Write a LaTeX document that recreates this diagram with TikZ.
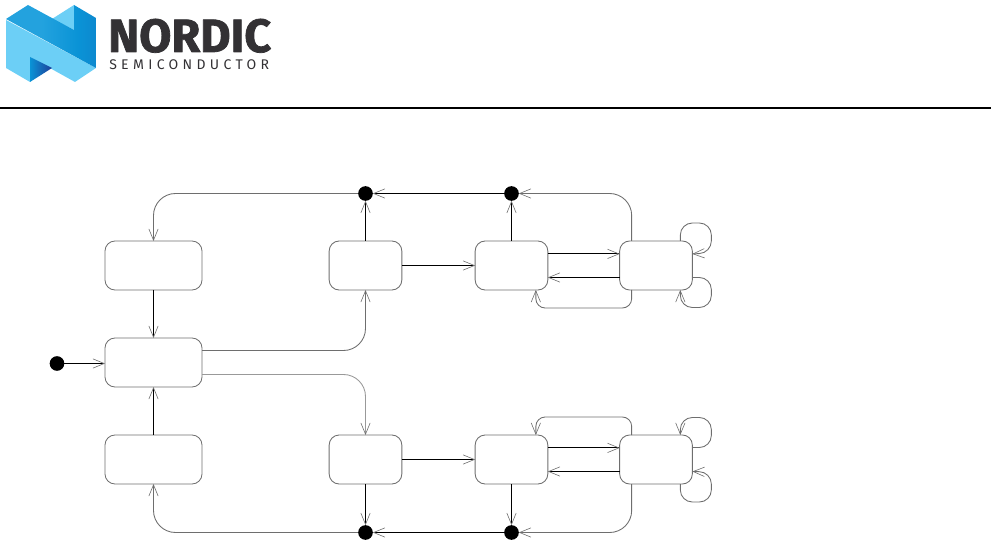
\documentclass[tikz,border=0pt]{standalone}
\usepackage{xcolor}
\usepackage{fontspec}
\setmainfont{Fira Sans}[BoldFeatures={FakeBold=1.6}]
\newfontfamily\logofont{Fira Sans}[LetterSpace=31]
\usetikzlibrary{arrows.meta,positioning}
\definecolor{nordiclight}{HTML}{6CCFF6}
\definecolor{nordicmid}{HTML}{0A93D6}
\definecolor{nordicdark}{HTML}{1F3F9A}
\definecolor{nordictext}{HTML}{333134}
\definecolor{wiregrey}{HTML}{6E6E6E}
\pgfdeclarehorizontalshading{nordicband}{100bp}{
  color(0bp)=(nordicmid!75!nordiclight);
  color(30bp)=(nordicmid!75!nordiclight);
  color(50bp)=(nordicmid);
  color(62bp)=(nordicmid!85!nordicdark);
  color(70bp)=(nordicdark)
}
\tikzset{
  statebox/.style={draw=wiregrey, line width=0.65pt, rounded corners=7.5pt, inner sep=0pt, outer sep=0pt, minimum height=36.75pt},
  widebox/.style={statebox, minimum width=72.75pt},
  narrowbox/.style={statebox, minimum width=54.5pt},
  junction/.style={circle, fill=black, inner sep=0pt, outer sep=0pt, minimum size=11pt},
  flow/.style={black, line width=0.75pt, -{Straight Barb[length=8.5pt, width=7pt, line width=0.45pt, color=wiregrey]}},
  curveflow/.style={flow, wiregrey, line width=0.65pt, rounded corners=16.5pt},
  loopflow/.style={flow, wiregrey, line width=0.65pt, rounded corners=9pt},
}
\begin{document}
\begin{tikzpicture}[x=0.75pt, y=0.75pt, line join=round]
  \useasboundingbox (0,0) rectangle (991,-541);
  % logo
  \fill[nordiclight] (6,-20) -- (96,-68) -- (75,-82) -- (30,-57) -- (30,-82) -- (6,-68) -- cycle;
  \fill[nordiclight] (52,-19) -- (74,-5) -- (74,-30) -- cycle;
  \shade[shading=nordicband]
    (6,-19) -- (28,-5) -- (74,-30) -- (74,-5) -- (96,-18) -- (96,-68) -- cycle;
  \shade[left color=nordicmid, right color=nordicdark] (30,-57) -- (52,-68) -- (30,-82) -- cycle;
  \node[anchor=base west, inner sep=0pt, nordictext, font=\fontsize{35}{35}\selectfont\bfseries] (brand) at (108,-52) {NORDIC};
  \node[anchor=base west, inner sep=0pt, nordictext, font=\fontsize{10.5}{10.5}\logofont] (subbrand) at (109,-70) {SEMICONDUCTOR};
  % header rule
  \draw[black, line width=1.5pt] (0,-108) -- (991,-108);
  % left column
  \node[widebox] (upper) at (153.5,-265.5) {};
  \node[widebox] (centre) at (153.5,-362.5) {};
  \node[widebox] (lower) at (153.5,-459.5) {};
  \node[junction] (start) at (57,-363.5) {};
  % upper row
  \node[narrowbox] (upA) at (365.5,-265.5) {};
  \node[narrowbox] (upB) at (511.5,-265.5) {};
  \node[narrowbox] (upC) at (656,-265.5) {};
  \node[junction] (upjoinA) at (365.5,-193.5) {};
  \node[junction] (upjoinB) at (511.5,-193.5) {};
  % lower row
  \node[narrowbox] (lowA) at (365.5,-459.5) {};
  \node[narrowbox] (lowB) at (511.5,-459.5) {};
  \node[narrowbox] (lowC) at (656,-459.5) {};
  \node[junction] (lowjoinA) at (365.5,-532.5) {};
  \node[junction] (lowjoinB) at (511.5,-532.5) {};
  % left column flows
  \draw[flow] (start) -- (start -| centre.west);
  \draw[flow] (upper.south) -- (centre.north);
  \draw[flow] (lower.north) -- (centre.south);
  \draw[curveflow] (upjoinA.west) -| (upper.north);
  \draw[curveflow] (lowjoinA.west) -| (lower.south);
  \draw[curveflow] ([yshift=9pt]centre.east) -| (upA.south);
  \draw[curveflow, draw=wiregrey!70] ([yshift=-9pt]centre.east) -| (lowA.north);
  % upper row flows
  \draw[flow] (upA.north) -- (upjoinA.south);
  \draw[flow] (upB.north) -- (upjoinB.south);
  \draw[flow] (upjoinB.west) -- (upjoinA.east);
  \draw[flow] (upA.east) -- (upB.west);
  \draw[flow] ([yshift=8.7pt]upB.east) -- ([yshift=8.7pt]upC.west);
  \draw[flow] ([yshift=-9pt]upC.west) -- ([yshift=-9pt]upB.east);
  \draw[curveflow] ([xshift=9pt]upC.north west) |- (upjoinB.east);
  \draw[loopflow, rounded corners=7pt] ([xshift=9pt]upC.south west) -- ++(0,-18) -| ([xshift=-9pt]upB.south east);
  \draw[loopflow] ([xshift=-9pt]upC.north east) -- ++(0,18) -| ++(31,-30) -- ([yshift=8.7pt]upC.east);
  \draw[loopflow] ([yshift=-9pt]upC.east) -- ++(19,0) |- ++(-31,-30) -- ([xshift=-9pt]upC.south east);
  % lower row flows
  \draw[flow] (lowA.south) -- (lowjoinA.north);
  \draw[flow] (lowB.south) -- (lowjoinB.north);
  \draw[flow] (lowjoinB.west) -- (lowjoinA.east);
  \draw[flow] (lowA.east) -- (lowB.west);
  \draw[flow] ([yshift=8.7pt]lowB.east) -- ([yshift=8.7pt]lowC.west);
  \draw[flow] ([yshift=-9pt]lowC.west) -- ([yshift=-9pt]lowB.east);
  \draw[curveflow] ([xshift=9pt]lowC.south west) |- (lowjoinB.east);
  \draw[loopflow, rounded corners=7pt] ([xshift=9pt]lowC.north west) -- ++(0,18) -| ([xshift=-9pt]lowB.north east);
  \draw[loopflow] ([yshift=9pt]lowC.east) -- ++(19,0) |- ++(-31,30) -- ([xshift=-9pt]lowC.north east);
  \draw[loopflow] ([xshift=-9pt]lowC.south east) -- ++(0,-18) -| ++(31,30) -- ([yshift=-9pt]lowC.east);
\end{tikzpicture}
\end{document}
